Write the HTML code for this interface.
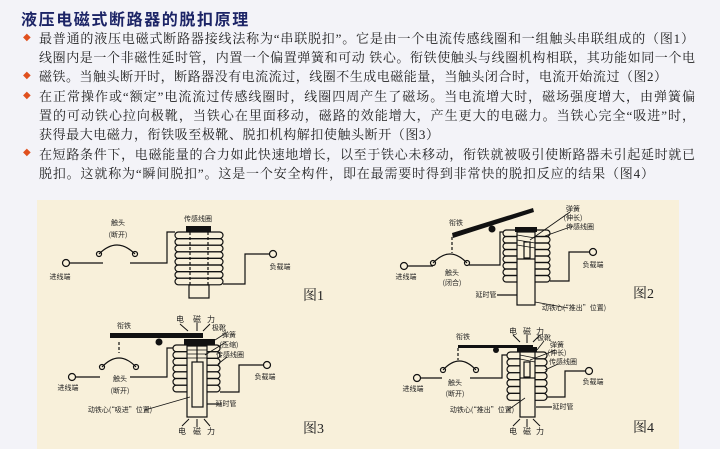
<!DOCTYPE html>
<html><head><meta charset="utf-8">
<style>
html,body{margin:0;padding:0;}
body{width:720px;height:449px;background:#f3f3f8;position:relative;overflow:hidden;font-family:"Liberation Serif","Noto Serif CJK SC","Noto Sans CJK SC",serif;color:#222;}
.t{position:absolute;left:21px;top:6px;font-family:"Liberation Sans","Noto Sans CJK SC",sans-serif;font-weight:bold;font-size:16px;letter-spacing:1.6px;color:#1c2466;}
.l{position:absolute;left:39px;font-size:13px;line-height:19px;white-space:nowrap;text-align:justify;text-align-last:justify;height:19px;overflow:visible;}
.b{position:absolute;left:23px;font-size:10px;color:#e0501e;font-family:"DejaVu Sans",sans-serif;}
svg{position:absolute;left:0;top:0;}
</style></head><body>
<div class="t">液压电磁式断路器的脱扣原理</div>
<div class="b" style="top:32px">◆</div>
<div class="b" style="top:70px">◆</div>
<div class="b" style="top:90px">◆</div>
<div class="b" style="top:147px">◆</div>
<div class="l" style="top:29px;width:655px">最普通的液压电磁式断路器接线法称为“串联脱扣”。它是由一个电流传感线圈和一组触头串联组成的（图1）</div>
<div class="l" style="top:48px;width:656px">线圈内是一个非磁性延时管，内置一个偏置弹簧和可动 铁心。衔铁使触头与线圈机构相联，其功能如同一个电</div>
<div class="l" style="top:67px;width:628px">磁铁。当触头断开时，断路器没有电流流过，线圈不生成电磁能量，当触头闭合时，电流开始流过（图2）</div>
<div class="l" style="top:87px;width:656px">在正常操作或“额定”电流流过传感线圈时，线圈四周产生了磁场。当电流增大时，磁场强度增大，由弹簧偏</div>
<div class="l" style="top:106px;width:656px">置的可动铁心拉向极靴，当铁心在里面移动，磁路的效能增大，产生更大的电磁力。当铁心完全“吸进”时，</div>
<div class="l" style="top:125px;width:400px">获得最大电磁力，衔铁吸至极靴、脱扣机构解扣使触头断开（图3）</div>
<div class="l" style="top:145px;width:656px">在短路条件下，电磁能量的合力如此快速地增长，以至于铁心未移动，衔铁就被吸引使断路器未引起延时就已</div>
<div class="l" style="top:164px;width:615px">脱扣。这就称为“瞬间脱扣”。这是一个安全构件，即在最需要时得到非常快的脱扣反应的结果（图4）</div>

<svg width="720" height="449" viewBox="0 0 720 449">
<rect x="37" y="200" width="642" height="249" fill="#f8f0da"/>
<g fill="none" stroke="#111" stroke-width="1.2">
<circle cx="66" cy="263" r="3.5"/>
<line x1="69.5" y1="263" x2="103" y2="263"/>
<path d="M99 254 Q117 236 135 254"/>
<circle cx="99" cy="254" r="2.5"/><circle cx="135" cy="254" r="2.5"/>
<polyline points="130,263 167,263 167,232 175,232"/>
<rect x="175" y="232" width="48" height="6.6" rx="3.3"/>
<rect x="175" y="238.6" width="48" height="6.6" rx="3.3"/>
<rect x="175" y="245.2" width="48" height="6.6" rx="3.3"/>
<rect x="175" y="251.8" width="48" height="6.6" rx="3.3"/>
<rect x="175" y="258.4" width="48" height="6.6" rx="3.3"/>
<rect x="175" y="265" width="48" height="6.6" rx="3.3"/>
<rect x="175" y="271.6" width="48" height="6.6" rx="3.3"/>
<rect x="175" y="278.2" width="48" height="6.6" rx="3.3"/>
<line x1="190" y1="232" x2="190" y2="285" stroke-dasharray="3,2"/>
<line x1="208" y1="232" x2="208" y2="285" stroke-dasharray="3,2"/>
<rect x="189" y="285" width="20" height="13"/>
<polyline points="223,284 245,284 245,254 270,254"/>
<circle cx="273" cy="254" r="3.5"/>
<circle cx="72" cy="377" r="3.5"/>
<line x1="75.5" y1="377" x2="100" y2="377"/>
<path d="M102 367 Q119 349 136 367"/>
<circle cx="102" cy="367" r="2.5"/><circle cx="136" cy="367" r="2.5"/>
<polyline points="130,377 167,377 167,348 173,348"/>
<rect x="173" y="345" width="47" height="6.7" rx="3.3"/>
<rect x="173" y="351.7" width="47" height="6.7" rx="3.3"/>
<rect x="173" y="358.4" width="47" height="6.7" rx="3.3"/>
<rect x="173" y="365.1" width="47" height="6.7" rx="3.3"/>
<rect x="173" y="371.8" width="47" height="6.7" rx="3.3"/>
<rect x="173" y="378.5" width="47" height="6.7" rx="3.3"/>
<rect x="173" y="385.2" width="47" height="6.7" rx="3.3"/>
<rect x="187" y="346" width="20" height="71" fill="#f8f0da"/>
<rect x="192" y="362" width="11" height="45"/>
<path d="M187 350 H207 M187 354 H207 M187 358 H207" stroke-width="0.8"/>
<line x1="197" y1="346" x2="197" y2="362"/>
<line x1="119" y1="342" x2="119" y2="353" stroke-dasharray="3,2"/>
<polyline points="220,392 239,392 239,365 264,365"/>
<circle cx="267" cy="365" r="3.5"/>
<line x1="207" y1="404" x2="222" y2="404"/>
<line x1="145" y1="410" x2="190" y2="397" stroke-width="0.8"/>
<line x1="215" y1="340" x2="226" y2="333" stroke-width="0.8"/>
<line x1="205" y1="355" x2="226" y2="342" stroke-width="0.8"/>
<line x1="218" y1="364" x2="227" y2="357" stroke-width="0.8"/>
<circle cx="404" cy="266" r="3.5"/>
<line x1="407.5" y1="266" x2="433" y2="266"/>
<path d="M433 263 Q450 245 467 263"/>
<circle cx="433" cy="263" r="2.5"/><circle cx="467" cy="263" r="2.5"/>
<polyline points="469,265 500,265 500,232 503,232"/>
<rect x="503" y="230" width="47" height="6.5" rx="3.2"/>
<rect x="503" y="236.5" width="47" height="6.5" rx="3.2"/>
<rect x="503" y="243" width="47" height="6.5" rx="3.2"/>
<rect x="503" y="249.5" width="47" height="6.5" rx="3.2"/>
<rect x="503" y="256" width="47" height="6.5" rx="3.2"/>
<rect x="503" y="262.5" width="47" height="6.5" rx="3.2"/>
<rect x="503" y="269" width="47" height="6.5" rx="3.2"/>
<rect x="503" y="275.5" width="47" height="6.5" rx="3.2"/>
<rect x="517" y="232" width="18" height="73" fill="#f8f0da"/>
<rect x="524" y="242" width="6" height="16"/>
<line x1="517" y1="259" x2="535" y2="259"/>
<path d="M517 235 L535 238 M517 240 L535 243 M517 245 L535 248" stroke-width="0.7"/>
<line x1="452" y1="237" x2="452" y2="253" stroke-dasharray="3,2"/>
<polyline points="550,281 569,281 569,252 590,252"/>
<circle cx="593" cy="252" r="3.5"/>
<line x1="497" y1="295" x2="517" y2="295"/>
<line x1="535" y1="302" x2="568" y2="308" stroke-width="0.8"/>
<line x1="530" y1="240" x2="570" y2="212" stroke-width="0.8"/>
<line x1="545" y1="236" x2="573" y2="226" stroke-width="0.8"/>
<circle cx="417" cy="378" r="3.5"/>
<line x1="420.5" y1="378" x2="442" y2="378"/>
<path d="M443 370 Q459.5 352 476 370"/>
<circle cx="443" cy="370" r="2.5"/><circle cx="476" cy="370" r="2.5"/>
<polyline points="470,378 502,378 502,355 507,355"/>
<rect x="507" y="352" width="40" height="6.9" rx="3.4"/>
<rect x="507" y="358.9" width="40" height="6.9" rx="3.4"/>
<rect x="507" y="365.8" width="40" height="6.9" rx="3.4"/>
<rect x="507" y="372.7" width="40" height="6.9" rx="3.4"/>
<rect x="507" y="379.6" width="40" height="6.9" rx="3.4"/>
<rect x="507" y="386.5" width="40" height="6.9" rx="3.4"/>
<rect x="507" y="393.4" width="40" height="6.9" rx="3.4"/>
<rect x="520" y="352" width="15" height="65" fill="#f8f0da"/>
<rect x="524" y="362" width="6" height="15"/>
<line x1="520" y1="378" x2="535" y2="378"/>
<path d="M520 355 L535 358 M520 359 L535 362" stroke-width="0.7"/>
<line x1="458" y1="348" x2="458" y2="360" stroke-dasharray="3,2"/>
<polyline points="547,397 565,397 565,371 585,371"/>
<circle cx="589" cy="371" r="3.5"/>
<line x1="536" y1="407" x2="552" y2="407"/>
<line x1="508" y1="410" x2="525" y2="398" stroke-width="0.8"/>
<line x1="537" y1="350" x2="544" y2="341" stroke-width="0.8"/>
<line x1="530" y1="360" x2="556" y2="350" stroke-width="0.8"/>
<line x1="545" y1="370" x2="558" y2="364" stroke-width="0.8"/>
</g>
<g fill="#111">
<rect x="186" y="226" width="25" height="6"/>
<rect x="110" y="333" width="93" height="5"/>
<circle cx="159" cy="342" r="3.5"/>
<rect x="184" y="339" width="31" height="6"/>
<polygon points="452,233 533,208 534,212 453,238"/>
<circle cx="492" cy="229" r="3.5"/>
<rect x="515" y="227" width="22" height="5"/>
<rect x="458" y="345" width="75" height="3"/>
<circle cx="496" cy="350" r="3"/>
<rect x="517" y="347" width="20" height="5"/>
</g>
<g stroke="#111" stroke-width="1" fill="#111">
<line x1="180" y1="324" x2="188" y2="331"/><line x1="197" y1="323" x2="197" y2="331"/><line x1="210" y1="324" x2="203" y2="331"/>
<line x1="182" y1="426" x2="189" y2="419"/><line x1="197" y1="427" x2="197" y2="419"/><line x1="210" y1="426" x2="204" y2="419"/>
<line x1="513" y1="335" x2="520" y2="342"/><line x1="527" y1="335" x2="527" y2="343"/><line x1="540" y1="335" x2="533" y2="342"/>
<line x1="513" y1="426" x2="520" y2="419"/><line x1="527" y1="427" x2="527" y2="419"/><line x1="540" y1="426" x2="533" y2="419"/>
</g>
<g font-size="7" fill="#222" font-family="'Noto Sans CJK SC',sans-serif" text-anchor="middle">
<text x="198" y="221">传感线圈</text>
<text x="118" y="225">触头</text><text x="118" y="237">(断开)</text>
<text x="60" y="279">进线端</text><text x="280" y="269">负载端</text>
<text x="124" y="328">衔铁</text><text x="219" y="330">极靴</text>
<text x="229" y="337">弹簧</text><text x="229" y="347">(压缩)</text>
<text x="230" y="357">传感线圈</text>
<text x="68" y="390">进线端</text><text x="265" y="379">负载端</text>
<text x="120" y="381">触头</text><text x="120" y="393">(断开)</text>
<text x="226" y="406">延时管</text>
<text x="120" y="412">动铁心(“吸进”位置)</text>
<text x="456" y="225">衔铁</text>
<text x="573" y="211">弹簧</text><text x="573" y="220">(伸长)</text>
<text x="580" y="229">传感线圈</text>
<text x="406" y="279">进线端</text><text x="593" y="267">负载端</text>
<text x="452" y="275">触头</text><text x="452" y="285">(闭合)</text>
<text x="486" y="297">延时管</text>
<text x="574" y="310">动铁心(“推出”位置)</text>
<text x="463" y="339">衔铁</text><text x="544" y="340">极靴</text>
<text x="557" y="347">弹簧</text><text x="557" y="355">(伸长)</text>
<text x="563" y="364">传感线圈</text>
<text x="413" y="391">进线端</text><text x="593" y="384">负载端</text>
<text x="455" y="385">触头</text><text x="455" y="396">(断开)</text>
<text x="563" y="409">延时管</text>
<text x="482" y="412">动铁心(“推出”位置)</text>
</g>
<g font-size="8" fill="#222" font-family="'Noto Sans CJK SC',sans-serif" text-anchor="middle">
<text x="180" y="322">电</text><text x="197" y="322">磁</text><text x="211" y="322">力</text>
<text x="182" y="434">电</text><text x="197" y="434">磁</text><text x="211" y="434">力</text>
<text x="513" y="334">电</text><text x="527" y="334">磁</text><text x="540" y="334">力</text>
<text x="513" y="434">电</text><text x="527" y="434">磁</text><text x="540" y="434">力</text>
</g>
<g font-size="14" fill="#222" font-family="'Liberation Serif','Noto Serif CJK SC',serif">
<text x="303" y="300">图1</text><text x="303" y="433">图3</text>
<text x="633" y="298">图2</text><text x="633" y="432">图4</text>
</g>
</svg>
</body></html>
